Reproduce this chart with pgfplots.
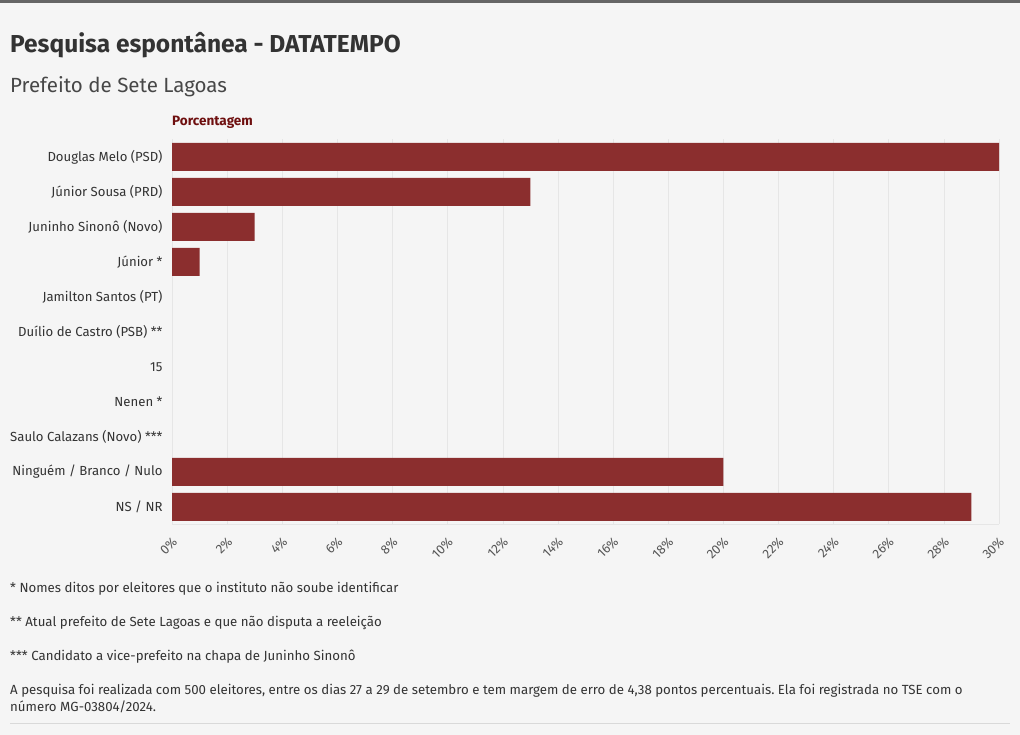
\documentclass[border=0pt]{standalone}
\usepackage{pgfplots}
\pgfplotsset{compat=1.18}
\usepackage{fontspec}
\setmainfont{Fira Sans}
\frenchspacing
\definecolor{bg}{HTML}{F5F5F5}
\definecolor{bar}{HTML}{8B2E2E}
\definecolor{txt}{HTML}{333333}
\definecolor{tick}{HTML}{555555}
\definecolor{gridc}{HTML}{E6E6E6}
\definecolor{dred}{HTML}{6E0F0F}
\begin{document}
\begin{tikzpicture}[x=1bp,y=1bp]
\path[use as bounding box, fill=bg] (0,0) rectangle (1020,735);
\fill[black!60] (0,732) rectangle (1020,735);
\node[anchor=base west, font=\fontsize{24.6}{28}\selectfont\bfseries, text=txt, inner sep=0] at (10,735-53) {Pesquisa espontânea - DATATEMPO};
\node[anchor=base west, font=\fontsize{20.6}{24}\selectfont, text=txt!90, inner sep=0] at (10,735-93) {Prefeito de Sete Lagoas};
\node[anchor=base west, font=\fontsize{13.6}{16}\selectfont\bfseries, text=dred, inner sep=0] at (172,735-126) {Porcentagem};
\begin{axis}[
  at={(172bp,210.5bp)}, anchor=south west,
  scale only axis, width=827bp, height=385bp,
  xmin=0, xmax=30, ymin=-0.5, ymax=10.5, y dir=reverse,
  axis line style={draw=none},
  xtick={0,2,...,30},
  xticklabel={\pgfmathprintnumber{\tick}\%},
  xmajorgrids, major grid style={gridc, line width=0.6pt},
  ytick={0,...,10},
  yticklabels={{Douglas Melo (PSD)},{Júnior Sousa (PRD)},{Juninho Sinonô (Novo)},{Júnior *},{Jamilton Santos (PT)},{Duílio de Castro (PSB) **},{15},{Nenen *},{Saulo Calazans (Novo) ***},{Ninguém / Branco / Nulo},{NS / NR}},
  major tick length=0pt,
  /pgf/number format/assume math mode=true,
  xticklabel style={rotate=45, anchor=north east, font=\fontsize{13}{15}\selectfont, text=tick, xshift=-7.3bp, yshift=-6.6bp, inner sep=1pt},
  yticklabel style={font=\fontsize{13.2}{15}\selectfont, text=txt, xshift=-6bp},
  clip=false,
]
\draw[gridc, line width=0.6pt] (axis cs:0,10.5) -- (axis cs:30,10.5);
\addplot[xbar, bar width=28bp, fill=bar, draw=none] coordinates {
(30,0) (13,1) (3,2) (1,3) (20,9) (29,10)};
\end{axis}
\begin{scope}[every node/.style={anchor=base west, font=\fontsize{13.3}{15}\selectfont, text=txt, inner sep=0}]
\node at (10,735-593) {* Nomes ditos por eleitores que o instituto não soube identificar};
\node at (10,735-627) {** Atual prefeito de Sete Lagoas e que não disputa a reeleição};
\node at (10,735-661) {*** Candidato a vice-prefeito na chapa de Juninho Sinonô};
\node at (10,735-695) {A pesquisa foi realizada com 500 eleitores, entre os dias 27 a 29 de setembro e tem margem de erro de 4,38 pontos percentuais. Ela foi registrada no TSE com o};
\node at (10,735-712) {número MG-03804/2024.};
\end{scope}
\draw[black!15, line width=0.8pt] (10,735-723) -- (1010,735-723);
\end{tikzpicture}
\end{document}
